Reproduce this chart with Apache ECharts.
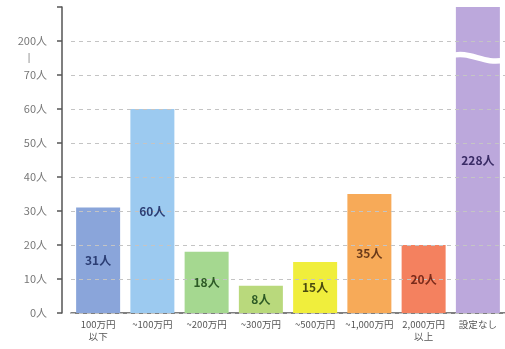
<!DOCTYPE html>
<html><head><meta charset="utf-8">
<script src="https://cdn.jsdelivr.net/npm/echarts@6/dist/echarts.min.js"></script>
<style>html,body{margin:0;padding:0;background:#fff}#c{width:505px;height:349px}</style>
</head><body><div id="c"></div>
<script>
const categories = ['100万円\n以下','~100万円','~200万円','~300万円','~500万円','~1,000万円','2,000万円\n以上','設定なし'];
const values = [31, 60, 18, 8, 15, 35, 20, 228];
const barColors = ['#8aa5da','#9ccaf0','#a5d890','#b9d97c','#f0ee3c','#f7aa58','#f4815f','#bca8dc'];
const labelColors = ['#2c3e74','#2c3e74','#2d5a25','#2d5a25','#4a4a10','#6a3a1a','#7a2a1a','#3a2c66'];
const yTickLabels = {0:'0人',10:'10人',20:'20人',30:'30人',40:'40人',50:'50人',60:'60人',70:'70人',80:'200人'};
const breakValue = 75;
const breakIndex = 7;

const chart = echarts.init(document.getElementById('c'), null, {renderer:'canvas'});
chart.setOption({
  animation:false,
  grid:{left:71,right:-3,top:7,bottom:36,containLabel:false},
  xAxis:{type:'category',data:categories,
    axisLine:{lineStyle:{color:'#555',width:1.5}},
    axisTick:{show:false},
    axisLabel:{interval:0,color:'#555',fontSize:9.5,lineHeight:12,margin:5,fontFamily:'Noto Sans CJK JP'}},
  yAxis:[{type:'value',min:0,max:90,interval:10,offset:9,z:3,
    axisLine:{show:true,lineStyle:{color:'#555',width:1.5}},
    axisTick:{show:true,length:5,lineStyle:{color:'#555',width:1.5}},
    axisLabel:{color:'#777',fontSize:11,margin:15,fontFamily:'Noto Sans CJK JP',
      formatter:v=>yTickLabels[v]!==undefined?yTickLabels[v]:''},
    splitLine:{show:true,showMaxLine:false,lineStyle:{color:'#c4c4c4',type:[4,4],width:1}}},
   {type:'value',min:0,max:90,interval:5,offset:9,position:'left',
    axisLine:{show:false},axisTick:{show:false},splitLine:{show:false},
    axisLabel:{color:'#888',fontSize:10,margin:33,align:'center',
      formatter:v=>v===breakValue?'|':''}}],
  series:[{type:'bar',z:2,data:values.map((v,i)=>({value:v,itemStyle:{color:barColors[i]}})),
    barWidth:44,clip:true},
   {type:'bar',z:5,barGap:'-100%',barWidth:44,clip:true,
    data:values.map((v,i)=>({value:v,label:{color:labelColors[i]}})),
    itemStyle:{color:'rgba(0,0,0,0)'},
    label:{show:true,position:'inside',fontSize:12,fontWeight:'bold',
      fontFamily:'Noto Sans CJK JP',formatter:p=>p.value+'人'}},
   {type:'custom',z:4,data:[[breakIndex,breakValue]],
    renderItem:function(params,api){
      const c = api.coord([api.value(0),api.value(1)]);
      const w = api.size([1,0])[0];
      const x0 = c[0]-w/2, x1 = c[0]+w/2, y = c[1]+1;
      return {type:'path',shape:{pathData:
        'M'+x0+' '+(y-3)+' C'+(x0+w*0.35)+' '+(y-9)+' '+(x0+w*0.6)+' '+(y+6)+' '+x1+' '+(y+1)},
        style:{stroke:'#fff',fill:null,lineWidth:5.5}};
    }}]
});
</script></body></html>
